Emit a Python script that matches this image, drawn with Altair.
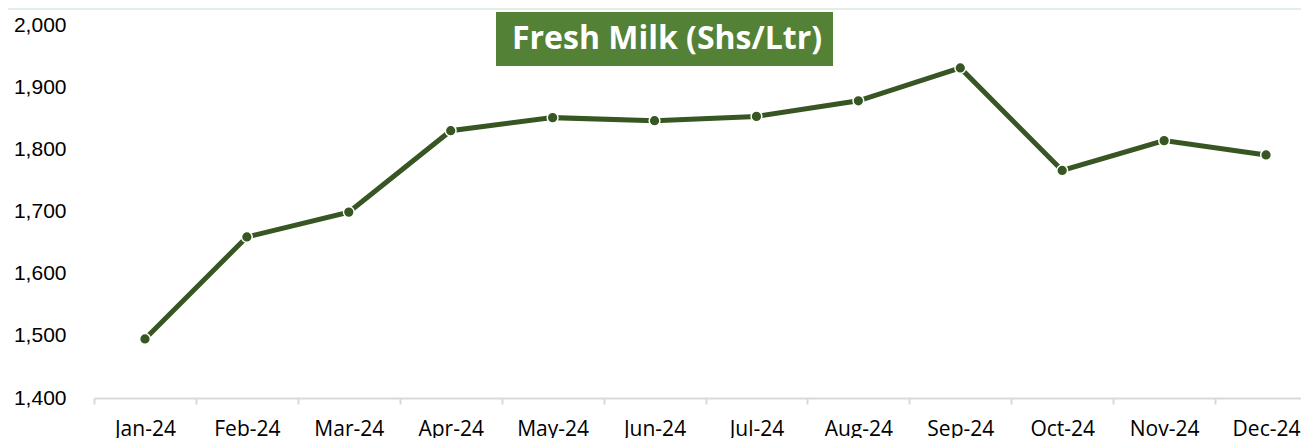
import altair as alt
import pandas as pd

months = ["Jan-24", "Feb-24", "Mar-24", "Apr-24", "May-24", "Jun-24",
          "Jul-24", "Aug-24", "Sep-24", "Oct-24", "Nov-24", "Dec-24"]
prices = [1495, 1659, 1699, 1830, 1851, 1846, 1853, 1878, 1931, 1766, 1814, 1791]
y_ticks = [1400, 1500, 1600, 1700, 1800, 1900, 2000]
title_text = "Fresh Milk (Shs/Ltr)"

df = pd.DataFrame({"month": months, "price": prices})

W = 1207
H = 373
LINE = "#375623"

x_enc = alt.X("month:N", sort=months, title=None,
              scale=alt.Scale(range=[0, 1223], paddingInner=0, paddingOuter=0),
              axis=alt.Axis(labelAngle=0, tickBand="extent", ticks=True, tickSize=6,
                            tickColor="#D9D9D9", tickWidth=2, domainColor="#D9D9D9",
                            domainWidth=2, labelFont="Open Sans", labelFontSize=21,
                            labelColor="#000000", labelPadding=14, grid=False))
y_enc = alt.Y("price:Q", title=None,
              scale=alt.Scale(domain=[1400, 2000], nice=False, zero=False),
              axis=alt.Axis(values=y_ticks, format=",d", ticks=False, domain=False,
                            grid=False, labelFont="Liberation Sans", labelFontSize=21,
                            labelColor="#000000", labelPadding=28))

base = alt.Chart(df)
line = base.mark_line(color=LINE, strokeWidth=5).encode(x=x_enc, y=y_enc)
pts = base.mark_point(filled=True, color=LINE, size=115, opacity=1,
                      stroke="white", strokeWidth=1.5).encode(x=x_enc, y=y_enc)

band = alt.Chart(pd.DataFrame({"k": [0]})).mark_rect(color="#E2EFE2").encode(
    x=alt.value(-94), x2=alt.value(W), y=alt.value(-17), y2=alt.value(-15))
tbox = alt.Chart(pd.DataFrame({"k": [0]})).mark_rect(color="#538135").encode(
    x=alt.value(402), x2=alt.value(739), y=alt.value(-13), y2=alt.value(41))
ttext = alt.Chart(pd.DataFrame({"t": [title_text]})).mark_text(
    color="white", font="Open Sans", fontWeight="bold", fontSize=32,
    align="center", baseline="middle").encode(
    x=alt.value(573), y=alt.value(14), text="t:N")

chart = alt.layer(band, line, pts, tbox, ttext).properties(
    width=W, height=H,
    autosize=alt.AutoSizeParams(type="none"),
    padding={"left": 86, "top": 17, "right": 0, "bottom": 40},
    background="white",
).configure_view(stroke=None, strokeWidth=0)

chart.save("out.html", embed_options={"renderer": "svg", "actions": False})
